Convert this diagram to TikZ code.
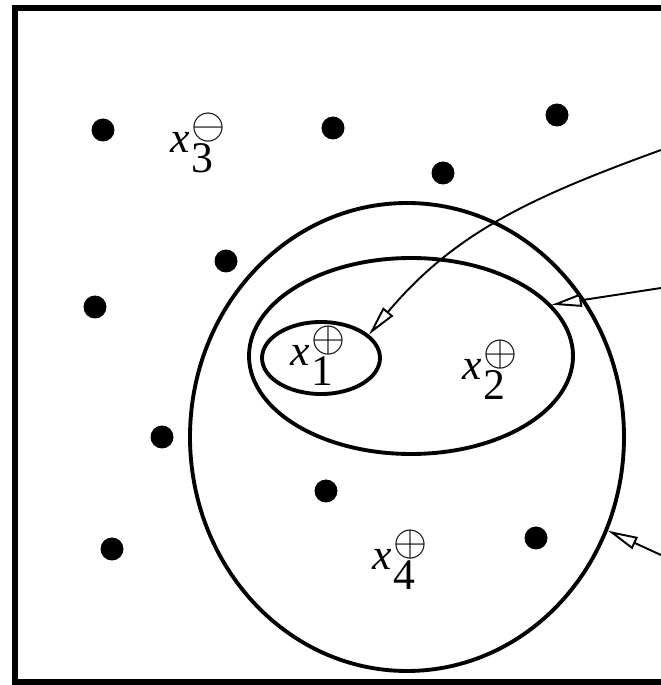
\documentclass[tikz,border=0pt]{standalone}
\usepackage{fontspec}
\setmainfont{Liberation Serif}
\usetikzlibrary{arrows.meta,shapes.geometric}
\tikzset{
  % Sample points
  sample/.style={circle,fill=black,inner sep=0pt,minimum size=0.46cm},
  % Nested regions
  region/.style={draw=black,line width=2.2pt,ellipse,inner sep=0pt},
  % Point labels
  lbl/.style={anchor=base west,inner sep=0pt,font=\Huge},
  % Pointers from the margin
  ptr/.style={-{Triangle[open,length=0.6cm,width=0.26cm]},line width=1.1pt}
}
\newcommand{\xlab}[2]{\textit{x}\kern1pt\rlap{\raisebox{8pt}{\Huge$#1$}}\raisebox{-11pt}{#2}}

\begin{document}
\begin{tikzpicture}
  \useasboundingbox (0,0) rectangle (13.22,13.70);

  % --- Frame (open on the right) ---
  \draw[line width=0.13cm] (13.22,13.54) -- (0.30,13.54) -- (0.30,0.06) -- (13.22,0.06);

  % --- Sample points ---
  \node[sample] (s1)  at (2.06,11.10) {};
  \node[sample] (s2)  at (6.66,11.14) {};
  \node[sample] (s3)  at (11.14,11.40) {};
  \node[sample] (s4)  at (8.86,10.24) {};
  \node[sample] (s5)  at (4.52,8.48) {};
  \node[sample] (s6)  at (1.90,7.56) {};
  \node[sample] (s7)  at (3.24,4.96) {};
  \node[sample] (s8)  at (6.52,3.88) {};
  \node[sample] (s9)  at (2.24,2.72) {};
  \node[sample] (s10) at (10.72,2.94) {};

  % --- Nested regions ---
  \node[region,minimum width=8.68cm,minimum height=9.36cm] (big)   at (8.14,4.96) {};
  \node[region,minimum width=6.48cm,minimum height=3.92cm] (mid)   at (8.22,6.58) {};
  \node[region,minimum width=2.36cm,minimum height=1.44cm] (small) at (6.42,6.54) {};

  % --- Labelled points ---
  \node[lbl] (x3) at (3.40,10.64) {\xlab{\ominus}{3}};
  \node[lbl] (x1) at (5.80,6.38)  {\xlab{\oplus}{1}};
  \node[lbl] (x2) at (9.24,6.10)  {\xlab{\oplus}{2}};
  \node[lbl] (x4) at (7.44,2.30)  {\xlab{\oplus}{4}};

  % --- Pointers ---
  \coordinate (r1) at (13.22,10.70);
  \coordinate (r2) at (13.22,7.94);
  \coordinate (r3) at (13.22,2.60);
  \draw[ptr] (r1) to[out=200,in=50] (small.26);
  \draw[ptr] (r2) -- (mid.20);
  \draw[ptr] (r3) -- (big.-25);
\end{tikzpicture}
\end{document}
